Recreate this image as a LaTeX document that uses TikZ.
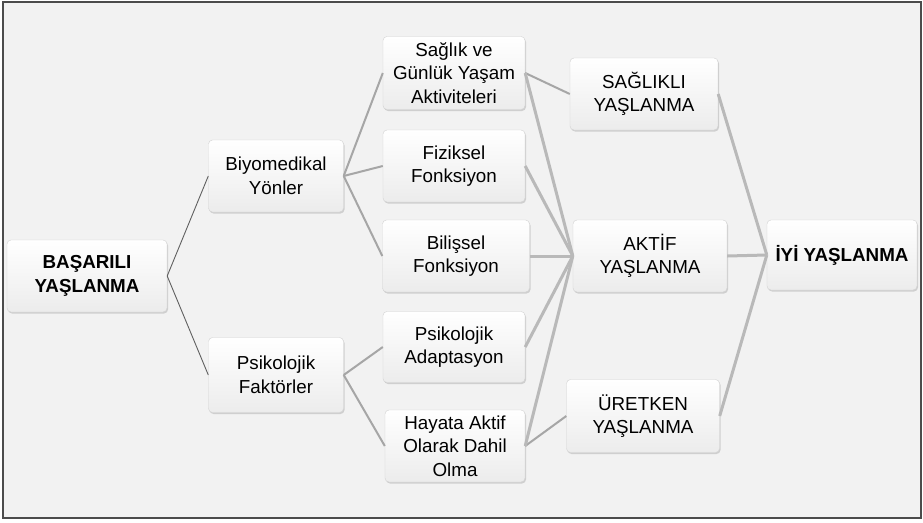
\documentclass[tikz,border=0pt]{standalone}
\usepackage{fontspec}
\setmainfont{Liberation Sans}
\usetikzlibrary{shadows}
\begin{document}
\begin{tikzpicture}[x=1pt, y=-1pt,
	every node/.style={font=\fontsize{18.8}{23.5}\selectfont, align=center, inner sep=1pt},
	kutu/.style={draw=gray!35, rounded corners=4pt, top color=white, bottom color=gray!15,
		drop shadow={opacity=0.3, shadow xshift=1pt, shadow yshift=-1.5pt}, minimum height=72pt},
	ince/.style={draw=gray!75!black, line width=0.9pt},
	orta/.style={draw=gray!70, line width=2pt},
	kalin/.style={draw=gray!55, line width=3pt}]
			\useasboundingbox (0,0) rectangle (923,522);
			\filldraw[fill=black!5, draw=gray!60!black, line width=1.5pt] (3,2) rectangle (921,518);
			
			\node[kutu, minimum width=160pt] (bas) at (87,276) {\textbf{BAŞARILI}\\\textbf{YAŞLANMA}};
			\node[kutu, minimum width=135pt] (biyo) at (276,176) {Biyomedikal\\Yönler};
			\node[kutu, minimum width=135pt, minimum height=75pt] (psi) at (276,375) {Psikolojik\\Faktörler};
			\node[kutu, minimum width=142pt, minimum height=73pt] (sag) at (454,73) {Sağlık ve\\Günlük Yaşam\\Aktiviteleri};
			\node[kutu, minimum width=142pt] (fiz) at (454,166) {Fiziksel\\Fonksiyon};
			\node[kutu, minimum width=147pt] (bil) at (456,256) {Bilişsel\\Fonksiyon};
			\node[kutu, minimum width=142pt, minimum height=71pt] (adp) at (454,347) {Psikolojik\\Adaptasyon};
			\node[kutu, minimum width=140pt] (hay) at (455,446) {Hayata Aktif\\Olarak Dahil\\Olma};
			\node[kutu, minimum width=148pt] (sy) at (644,94) {SAĞLIKLI\\YAŞLANMA};
			\node[kutu, minimum width=154pt] (ay) at (650,256) {AKTİF\\YAŞLANMA};
			\node[kutu, minimum width=153pt, minimum height=73pt] (uy) at (643,416) {ÜRETKEN\\YAŞLANMA};
			\node[kutu, minimum width=150pt, minimum height=70pt] (iyi) at (842,255) {\textbf{İYİ YAŞLANMA}};
			
			\foreach \from/\to in {bas/biyo,bas/psi}
			\draw[ince] (\from.east) -- (\to.west);
			\foreach \from/\to in {biyo/sag,biyo/fiz,biyo/bil,psi/adp,psi/hay,sag/sy,hay/uy}
			\draw[orta] (\from.east) -- (\to.west);
			\foreach \from/\to in {sag/ay,fiz/ay,bil/ay,adp/ay,hay/ay,sy/iyi,ay/iyi,uy/iyi}
			\draw[kalin] (\from.east) -- (\to.west);
			\end{tikzpicture}
\end{document}
